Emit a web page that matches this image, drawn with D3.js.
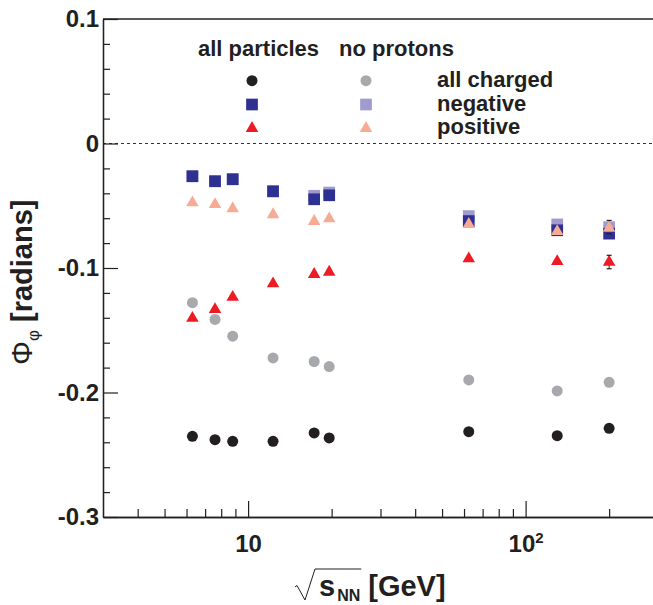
<!DOCTYPE html>
<html>
<head>
<meta charset="utf-8">
<script src="https://cdn.jsdelivr.net/npm/d3@7"></script>
<style>
body{margin:0;background:#ffffff;}
svg{display:block;font-family:"Liberation Sans",Arial,Helvetica,sans-serif;font-weight:bold;}
</style>
</head>
<body>
<div id="wrap"></div>
<script>
// beam energies, sqrt(s_NN) in GeV
var energies = [6.3, 7.6, 8.8, 12.3, 17.3, 19.6, 62.4, 130, 200];

// Phi_phi [radians], all particles
var chargedAll  = [-0.2352, -0.2379, -0.2392, -0.2392, -0.2325, -0.2365, -0.2315, -0.2347, -0.2288];
var negativeAll = [-0.0263, -0.0303, -0.0287, -0.0384, -0.0448, -0.0416, -0.0623, -0.0697, -0.0724];
var positiveAll = [-0.1403, -0.1333, -0.1234, -0.1126, -0.1051, -0.1033, -0.0925, -0.0947, -0.0952];
var positiveAllErr = [0, 0, 0, 0, 0, 0, 0, 0, 0.0054];

// Phi_phi [radians], no protons
var chargedNoP  = [-0.1279, -0.1413, -0.1548, -0.1722, -0.1751, -0.1792, -0.1899, -0.1987, -0.1918];
var negativeNoP = [-0.0263, -0.0303, -0.0287, -0.0384, -0.0420, -0.0394, -0.0583, -0.0650, -0.0672];
var negativeNoPErr = [0, 0, 0, 0, 0, 0, 0, 0, 0.0054];
var positiveNoP = [-0.0475, -0.0490, -0.0523, -0.0571, -0.0625, -0.0604, -0.0649, -0.0706, -0.0679];

// axis ticks
var yTicks = [-0.3, -0.2, -0.1, 0, 0.1];
var yTickLabels = ["-0.3", "-0.2", "-0.1", "0", "0.1"];
var xTicks = [10, 100];
var xTickLabels = ["10", "10|2"];
var xMinorTicks = [4, 5, 6, 7, 8, 9, 20, 30, 40, 50, 60, 70, 80, 90, 200];

// legend
var legendHeaders = ["all particles", "no protons"];
var legendLabels = ["all charged", "negative", "positive"];

var chart = {};
chart.ink = "#231f20";
chart.svg = d3.select("#wrap").append("svg").attr("width", 653).attr("height", 605);
chart.x = d3.scaleLog().domain([3, 300]).range([103, 658]);
chart.y = d3.scaleLinear().domain([-0.3, 0.1]).range([517, 19]);

var x = chart.x, y = chart.y, svg = chart.svg;

var series = [
	{values: chargedAll, shape: d3.symbolCircle, size: 95, fill: "#231f20"},
	{values: chargedNoP, shape: d3.symbolCircle, size: 95, fill: "#a7a9ac"},
	{values: negativeNoP, errors: negativeNoPErr, shape: d3.symbolSquare, size: 137, fill: "#9f9bcf"},
	{values: negativeAll, shape: d3.symbolSquare, size: 137, fill: "#2e3192"},
	{values: positiveNoP, shape: d3.symbolTriangle, size: 68, fill: "#f7ab95"},
	{values: positiveAll, errors: positiveAllErr, shape: d3.symbolTriangle, size: 68, fill: "#ed1c24"}
];

//frame: top line and zero line
svg.append("line").attr("x1", x.range()[0]).attr("x2", x.range()[1])
	.attr("y1", y.range()[1]).attr("y2", y.range()[1])
	.attr("stroke", chart.ink).attr("stroke-width", 1.3);

svg.append("line").attr("x1", x.range()[0]).attr("x2", x.range()[1])
	.attr("y1", y(0)).attr("y2", y(0))
	.attr("stroke", "#333333").attr("stroke-width", 1).attr("stroke-dasharray", "3,3");

//y axis, major and minor ticks pointing inward
var yMinor = d3.range(-15, 6).map(function(d){return d/50}).filter(function(d){return Math.abs(d*10 - Math.round(d*10)) > 1e-6});

var gyMinor = svg.append("g").attr("transform", "translate(" + x.range()[0] + ",0)")
	.call(d3.axisLeft(y).tickValues(yMinor).tickSize(-7).tickSizeOuter(0).tickFormat(""));
var gy = svg.append("g").attr("transform", "translate(" + x.range()[0] + ",0)")
	.call(d3.axisLeft(y).tickValues(yTicks).tickSize(-15).tickSizeOuter(0).tickPadding(4)
		.tickFormat(function(d){return yTickLabels[yTicks.indexOf(d)]}));

//x axis
var gxMinor = svg.append("g").attr("transform", "translate(0," + y.range()[0] + ")")
	.call(d3.axisBottom(x).tickValues(xMinorTicks).tickSize(-8).tickSizeOuter(0).tickFormat(""));
var gx = svg.append("g").attr("transform", "translate(0," + y.range()[0] + ")")
	.call(d3.axisBottom(x).tickValues(xTicks).tickSize(-16).tickSizeOuter(0).tickPadding(18)
		.tickFormat(function(d){return xTickLabels[xTicks.indexOf(d)]}));

[gyMinor, gy, gxMinor, gx].forEach(function(g){
	g.selectAll("path.domain").attr("stroke", chart.ink).attr("stroke-width", 1.3);
	g.selectAll("line").attr("stroke", chart.ink).attr("stroke-width", 1.2);
	g.selectAll("text").attr("fill", chart.ink).style("font-size", "24px").style("font-weight", "bold")
		.style("font-family", "'Liberation Sans',Arial,sans-serif");
});

//superscript exponent on 10^2
gx.selectAll("text").each(function(){
	var t = d3.select(this), parts = t.text().split("|");
	if(parts.length > 1){
		t.text(parts[0]);
		t.append("tspan").attr("dy", -9).style("font-size", "15px").text(parts[1]);
	}
});

//error bars (vertical line under markers)
var errLayer = svg.append("g");
var capLayer = svg.append("g");
var markLayer = svg.append("g");

series.forEach(function(s){
	var pts = energies.map(function(e, i){return {e: e, v: s.values[i], err: s.errors ? s.errors[i] : 0}});
	var withErr = pts.filter(function(d){return d.err > 0});

	errLayer.selectAll(null).data(withErr).enter().append("line")
		.attr("x1", function(d){return x(d.e)}).attr("x2", function(d){return x(d.e)})
		.attr("y1", function(d){return y(d.v + d.err)}).attr("y2", function(d){return y(d.v - d.err)})
		.attr("stroke", chart.ink).attr("stroke-width", 1);

	[1, -1].forEach(function(sign){
		capLayer.selectAll(null).data(withErr).enter().append("line")
			.attr("x1", function(d){return x(d.e) - 2.5}).attr("x2", function(d){return x(d.e) + 2.5})
			.attr("y1", function(d){return y(d.v + sign*d.err)}).attr("y2", function(d){return y(d.v + sign*d.err)})
			.attr("stroke", chart.ink).attr("stroke-width", 1.2);
	});

	markLayer.selectAll(null).data(pts).enter().append("path")
		.attr("transform", function(d){return "translate(" + x(d.e) + "," + y(d.v) + ")"})
		.attr("d", d3.symbol().type(s.shape).size(s.size))
		.attr("fill", s.fill);
});
capLayer.raise();

//legend
var legend = svg.append("g");
var headX = [198, 339], markX = [252, 366], rowY0 = 80.7, rowStep = 23.8, labelX = 437;

legend.selectAll("text.head").data(legendHeaders).enter().append("text").classed("head", true)
	.attr("x", function(d, i){return headX[i]}).attr("y", 56)
	.attr("fill", chart.ink).style("font-size", "22px").text(function(d){return d});

legend.selectAll("text.row").data(legendLabels).enter().append("text").classed("row", true)
	.attr("x", labelX).attr("y", function(d, i){return rowY0 + i*rowStep + 6})
	.attr("fill", chart.ink).style("font-size", "22px").text(function(d){return d});

// series order: [all, noP] for each row
var legendRows = [[series[0], series[1]], [series[3], series[2]], [series[5], series[4]]];
legendRows.forEach(function(row, r){
	row.forEach(function(s, c){
		legend.append("path")
			.attr("transform", "translate(" + markX[c] + "," + (rowY0 + r*rowStep) + ")")
			.attr("d", d3.symbol().type(s.shape).size(s.size))
			.attr("fill", s.fill);
	});
});

//y title
var ytitle = svg.append("text").attr("transform", "translate(32,365) rotate(-90)")
	.attr("fill", chart.ink).style("font-size", "29px");
ytitle.append("tspan").style("font-weight", "normal").style("font-size", "30px").text("Φ");
ytitle.append("tspan").attr("dy", 7).style("font-weight", "normal").style("font-size", "17px").text("φ");
ytitle.append("tspan").attr("dy", -7).text(" [radians]");

//x title with radical sign
var sx = 319, base = 596;
var sText = svg.append("text").attr("x", sx).attr("y", base).attr("fill", chart.ink)
	.style("font-size", "29px").text("s");
var sw = sText.node().getComputedTextLength();
var nnText = svg.append("text").attr("x", sx + sw + 2).attr("y", base + 4.5).attr("fill", chart.ink)
	.style("font-size", "16px").text("NN");
var nnEnd = sx + sw + 2 + nnText.node().getComputedTextLength();
svg.append("text").attr("x", nnEnd + 8).attr("y", base).attr("fill", chart.ink)
	.style("font-size", "29px").text("[GeV]");

svg.append("path")
	.attr("d", d3.line()([[sx - 24, base - 9], [sx - 22, base - 10.5], [sx - 14, base + 4], [sx - 4, base - 27], [nnEnd + 1, base - 27]]))
	.attr("fill", "none").attr("stroke", chart.ink).attr("stroke-width", 1);
</script>
</body>
</html>
